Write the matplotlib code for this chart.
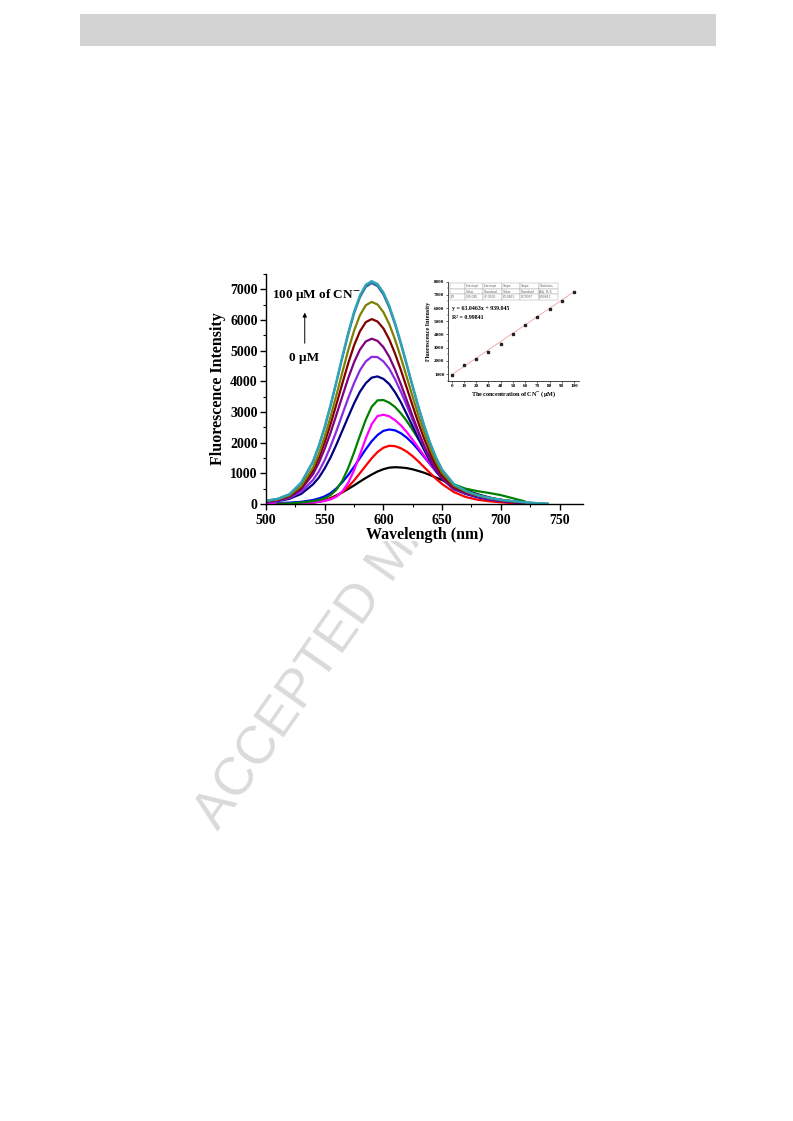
import matplotlib.pyplot as plt
from matplotlib.patches import Rectangle
from matplotlib.ticker import MultipleLocator

plt.rcParams['font.family'] = ['Liberation Serif', 'DejaVu Serif']
plt.rcParams['font.weight'] = 'bold'
plt.rcParams['axes.labelweight'] = 'bold'
plt.rcParams['mathtext.fontset'] = 'stix'

nan = float('nan')

# emission spectra (nm, a.u.)
wavelength = [500, 510, 520, 530, 540, 545, 550, 555, 560, 565, 570, 575, 580, 585,
              590, 595, 600, 605, 610, 615, 620, 625, 630, 635, 640, 645, 650,
              660, 670, 680, 690, 700, 710, 720, 730, 740]

black = [nan, nan, 0, 10, 45, 75, 120, 190, 280, 380, 490, 605, 730, 850,
         960, 1060, 1135, 1185, 1200, 1190, 1170, 1130, 1075, 1015, 940, 860, 780,
         610, 455, 320, 215, 135, 80, 40, nan, nan]
red = [5, 10, 20, 35, 60, 80, 115, 175, 255, 390, 560, 765, 1005, 1250,
       1490, 1695, 1835, 1900, 1885, 1815, 1705, 1555, 1380, 1190, 1000, 815, 650,
       390, 230, 140, 90, 55, 30, 15, nan, nan]
blue = [nan, 30, 45, 70, 130, 180, 250, 355, 510, 710, 945, 1215, 1500, 1785,
        2045, 2250, 2385, 2430, 2400, 2305, 2160, 1975, 1755, 1520, 1285, 1055, 845,
        520, 330, 220, 150, 100, 60, 30, nan, nan]
magenta = [10, 12, 15, 25, 50, 70, 100, 150, 240, 410, 690, 1100, 1610, 2140,
           2600, 2870, 2910, 2860, 2730, 2560, 2340, 2090, 1825, 1555, 1300, 1060, 845,
           540, 380, 280, 200, 140, 90, 50, nan, nan]
green = [nan, 5, 20, 50, 95, 130, 190, 290, 470, 760, 1170, 1680, 2230, 2750,
         3170, 3380, 3390, 3305, 3160, 2950, 2700, 2410, 2110, 1810, 1510, 1240, 1000,
         640, 500, 420, 360, 290, 190, 90, nan, nan]
navy = [65, 95, 170, 330, 640, 860, 1160, 1520, 1940, 2390, 2840, 3280, 3660, 3940,
        4120, 4160, 4080, 3910, 3640, 3310, 2920, 2530, 2120, 1740, 1380, 1070, 815,
        480, 340, 235, 165, 110, 70, 40, nan, nan]
violet = [70, 110, 200, 400, 780, 1060, 1430, 1880, 2380, 2920, 3450, 3940, 4360, 4650,
          4800, 4790, 4650, 4410, 4060, 3650, 3200, 2730, 2270, 1840, 1450, 1120, 840,
          500, 350, 245, 170, 115, 75, 40, nan, nan]
purple = [80, 125, 230, 480, 970, 1340, 1800, 2325, 2910, 3510, 4100, 4620, 5035, 5300,
          5390, 5320, 5115, 4800, 4375, 3895, 3375, 2850, 2345, 1875, 1465, 1115, 830,
          510, 360, 250, 175, 120, 75, 45, nan, nan]
wine = [90, 140, 255, 540, 1085, 1500, 2015, 2605, 3255, 3925, 4585, 5170, 5630, 5930,
        6030, 5950, 5725, 5365, 4895, 4355, 3775, 3190, 2620, 2100, 1640, 1250, 930,
        560, 390, 270, 185, 125, 80, 45, nan, nan]
olive = [95, 150, 280, 590, 1185, 1640, 2200, 2845, 3555, 4290, 5010, 5650, 6155, 6480,
         6590, 6505, 6255, 5865, 5350, 4760, 4125, 3485, 2865, 2295, 1790, 1365, 1015,
         600, 410, 280, 190, 130, 85, 50, nan, nan]
steel = [105, 165, 315, 690, 1375, 1885, 2495, 3200, 3970, 4765, 5530, 6210, 6740, 7080,
         7200, 7105, 6830, 6405, 5845, 5200, 4505, 3805, 3130, 2505, 1960, 1490, 1110,
         640, 425, 285, 195, 135, 90, 55, 30, 10]
teal = [110, 170, 320, 700, 1390, 1905, 2520, 3235, 4010, 4810, 5585, 6270, 6805, 7150,
        7270, 7175, 6900, 6470, 5900, 5250, 4550, 3845, 3160, 2530, 1980, 1505, 1120,
        650, 430, 290, 200, 140, 95, 60, 30, 10]

spectra = [black, red, blue, magenta, green, navy, violet, purple, wine, olive, steel, teal]
colors = ['#000000', '#ff0000', '#0000ff', '#ff00ff', '#008000', '#000080',
          '#8a2be2', '#800080', '#800000', '#808000', '#3d6aa3', '#2ca6b5']

# inset: peak intensity vs CN- concentration
conc = [0, 10, 20, 30, 40, 50, 60, 70, 80, 90, 100]
peak = [950, 1650, 2170, 2680, 3250, 4050, 4730, 5300, 5950, 6500, 7200]
slope = 63.0463
intercept = 939.045

table_rows = [['', 'Intercept', 'Intercept', 'Slope', 'Slope', 'Statistics'],
              ['', 'Value', 'Standard', 'Value', 'Standard', 'Adj. R-S'],
              ['E2', '939.045', '47.0900', '63.0463', '0.79097', '0.99841']]

W, H = 793, 1121
fig = plt.figure(figsize=(W / 100, H / 100), dpi=100)

# grey page header
fig.add_artist(Rectangle((80 / W, 1 - 46 / H), 636 / W, 32 / H, transform=fig.transFigure,
                         facecolor='#d3d3d3', edgecolor='none', zorder=0))
# watermark, mostly hidden behind the figure
fig.text(219 / W, 1 - 832 / H, 'ACCEPTED MANUSCRIPT', rotation=55, rotation_mode='anchor',
         ha='left', va='baseline', fontsize=38, color='#dadada', family='Liberation Sans',
         weight='normal', zorder=0.1)
fig.add_artist(Rectangle((205 / W, 1 - 541 / H), 392 / W, 276 / H, transform=fig.transFigure,
                         facecolor='white', edgecolor='none', zorder=0.5))

ax = fig.add_axes([266 / W, 1 - 504 / H, 317 / W, 230 / H])
ax.set_zorder(1)
for y, c in zip(spectra, colors):
    ax.plot(wavelength, y, color=c, lw=1.6)

ax.set_xlim(500, 770)
ax.set_ylim(0, 7500)
ax.set_xticks(range(500, 751, 50))
ax.set_yticks(range(0, 7001, 1000))
ax.xaxis.set_minor_locator(MultipleLocator(25))
ax.yaxis.set_minor_locator(MultipleLocator(500))
for s in ['top', 'right']:
    ax.spines[s].set_visible(False)
for s in ['left', 'bottom']:
    ax.spines[s].set_linewidth(1.0)
ax.tick_params(which='major', direction='out', length=4, width=1, labelsize=10)
ax.tick_params(which='minor', direction='out', length=2.5, width=0.8)
ax.tick_params(axis='y', pad=2)
ax.set_xlabel('Wavelength (nm)', fontsize=11.5, labelpad=0)
ax.set_ylabel('Fluorescence Intensity', fontsize=11.5, labelpad=3)

ax.text(505, 6820, '100 µM of CN$^{\\mathbf{-}}$', ha='left', va='center', fontsize=9.5)
ax.text(532, 4760, '0 µM', ha='center', va='center', fontsize=9.5)
ax.annotate('', xy=(533, 6330), xytext=(533, 5150),
            arrowprops=dict(arrowstyle='-|>', color='black', lw=0.7, mutation_scale=6))

# inset
axin = fig.add_axes([448 / W, 1 - 380.6 / H, 131 / W, 98.9 / H])
axin.set_zorder(2)
axin.plot([0, 100], [intercept, intercept + slope * 100], color='#f2a0a0', lw=0.6)
axin.plot(conc, peak, 's', color='#222222', ms=1.7)
axin.set_xlim(-3, 104)
axin.set_ylim(500, 8000)
axin.set_xticks(range(0, 101, 10))
axin.set_yticks(range(1000, 8001, 1000))
axin.xaxis.set_minor_locator(MultipleLocator(5))
axin.yaxis.set_minor_locator(MultipleLocator(500))
for s in ['top', 'right']:
    axin.spines[s].set_visible(False)
for s in ['left', 'bottom']:
    axin.spines[s].set_linewidth(0.5)
axin.tick_params(which='major', direction='out', length=1.5, width=0.4, labelsize=3.6, pad=1)
axin.tick_params(which='minor', direction='out', length=0.8, width=0.3)
axin.set_xlabel('The concentration of CN$^{\\mathbf{-}}$ (µM)', fontsize=4.4, labelpad=1)
axin.set_ylabel('Fluorescence Intensity', fontsize=4.4, labelpad=2)
axin.text(0.03, 0.734, 'y = 63.0463x + 939.045', transform=axin.transAxes,
          fontsize=4.2, va='center')
axin.text(0.03, 0.636, 'R² = 0.99841', transform=axin.transAxes, fontsize=4.2, va='center')

tb = axin.table(cellText=table_rows, bbox=[0.015, 0.815, 0.825, 0.17], cellLoc='left',
                colWidths=[0.14, 0.17, 0.17, 0.17, 0.17, 0.18])
tb.auto_set_font_size(False)
for cell in tb.get_celld().values():
    cell.set_linewidth(0.3)
    cell.set_edgecolor('#9a9a9a')
    cell.PAD = 0.04
    cell.get_text().set_fontsize(2.4)
    cell.get_text().set_color('#666666')
    cell.get_text().set_fontfamily('Liberation Sans')
    cell.get_text().set_fontweight('normal')

fig.savefig('out.png', dpi=100, facecolor='white')
